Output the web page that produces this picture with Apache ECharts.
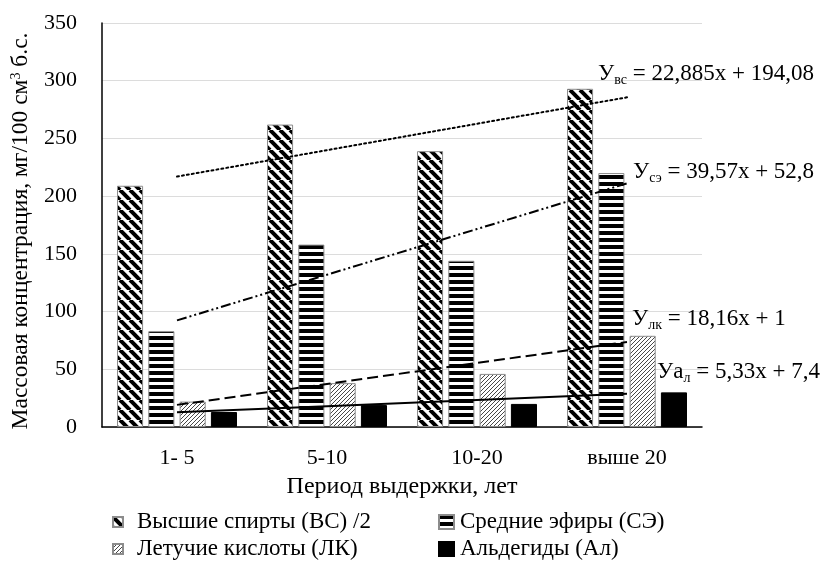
<!DOCTYPE html>
<html><head><meta charset="utf-8">
<script src="https://cdn.jsdelivr.net/npm/echarts@6/dist/echarts.min.js"></script>
<style>html,body{margin:0;padding:0;background:#fff}#c{width:822px;height:563px}</style>
</head><body><div id="c"></div>
<script>
const categories = ['1- 5', '5-10', '10-20', 'выше 20'];
const seriesNames = ['Высшие спирты (ВС) /2', 'Средние эфиры (СЭ)', 'Летучие кислоты (ЛК)', 'Альдегиды (Ал)'];
const valuesVS = [209, 262, 239, 293];
const valuesSE = [83, 158, 144, 220];
const valuesLK = [22, 38, 46, 79];
const valuesAL = [13, 19, 20, 30];
const trendSlope = [22.885, 39.57, 18.16, 5.33];
const trendIntercept = [194.08, 52.8, 1, 7.4];
const trendLabels = [
  '{m|У}{s|вс}{m| = 22,885x + 194,08}',
  '{m|У}{s|сэ}{m| = 39,57x + 52,8}',
  '{m|У}{s|лк}{m| = 18,16x + 1}',
  '{m|Уа}{s|л}{m| = 5,33x + 7,4}'
];
const yTicks = [0, 50, 100, 150, 200, 250, 300, 350];

const FONT = 'Liberation Serif';

function tile(w, h, draw) {
  const c = document.createElement('canvas');
  c.width = w; c.height = h;
  const g = c.getContext('2d');
  g.fillStyle = '#fff'; g.fillRect(0, 0, w, h);
  draw(g, w, h);
  return c;
}
const patVS = tile(10, 10, (g, s) => {
  g.strokeStyle = '#000'; g.lineWidth = 4;
  for (let k = -1; k <= 1; k++) { g.beginPath(); g.moveTo(k * s, 0); g.lineTo(k * s + s, s); g.stroke(); }
});
const patSE = tile(4, 7, (g, w) => { g.fillStyle = '#000'; g.fillRect(0, 0, w, 4); });
const patLK = tile(4, 4, (g, s) => {
  g.strokeStyle = '#333'; g.lineWidth = 0.9;
  for (let k = -1; k <= 1; k++) { g.beginPath(); g.moveTo(k * s, s); g.lineTo(k * s + s, 0); g.stroke(); }
});

const barValues = [valuesVS, valuesSE, valuesLK, valuesAL];
const fills = [
  { image: patVS, repeat: 'repeat' },
  { image: patSE, repeat: 'repeat' },
  { image: patLK, repeat: 'repeat' },
  '#000'
];
const borders = ['#8c8c8c', '#8c8c8c', '#8c8c8c', '#000'];
const dashes = [[2, 3], [10, 3, 2, 3, 2, 3], [11, 5], 'solid'];
const labelOffsets = [[-29, -23], [6, -11], [5, -23], [30, -22]];

const series = [];
barValues.forEach((vals, i) => {
  series.push({
    name: seriesNames[i], type: 'bar', data: vals,
    barGap: '20%', barCategoryGap: '20%',
    itemStyle: { color: fills[i], borderColor: borders[i], borderWidth: 1 },
    z: 2
  });
});
trendSlope.forEach((a, i) => {
  const b = trendIntercept[i];
  series.push({
    name: 'trend' + i, type: 'line', symbol: 'none', showSymbol: false,
    data: categories.map((_, k) => +(a * (k + 1) + b).toFixed(3)),
    lineStyle: { color: '#000', width: 2, type: dashes[i], cap: i === 0 ? 'round' : 'butt' },
    z: 5,
    endLabel: {
      show: true, formatter: trendLabels[i], offset: labelOffsets[i], distance: 0,
      rich: {
        m: { fontFamily: FONT, fontSize: 23, color: '#000', lineHeight: 26 },
        s: { fontFamily: FONT, fontSize: 14, color: '#000', lineHeight: 26, padding: [12, 0, 0, 0] }
      }
    }
  });
});

// legend: icons via ECharts legend, texts as real text elements
const legendPos = [
  { left: 112, cy: 521, w: 10, h: 10, tx: 137 },
  { left: 438, cy: 521, w: 15, h: 14, tx: 460 },
  { left: 112, cy: 548, w: 10, h: 10, tx: 137 },
  { left: 438, cy: 548, w: 15, h: 14, tx: 460 }
];
const legends = seriesNames.map((n, i) => ({
  data: [n], left: legendPos[i].left, top: legendPos[i].cy - legendPos[i].h / 2, padding: 0,
  itemWidth: legendPos[i].w, itemHeight: legendPos[i].h, icon: 'rect',
  formatter: () => '', textStyle: { fontSize: 1 }
}));
const legendTexts = seriesNames.map((n, i) => ({
  type: 'text', left: legendPos[i].tx, top: legendPos[i].cy - 11,
  style: { text: n, fontFamily: FONT, fontSize: 23, fill: '#000' }
}));

const chart = echarts.init(document.getElementById('c'), null, { renderer: 'canvas' });
chart.setOption({
  animation: false,
  backgroundColor: '#fff',
  textStyle: { fontFamily: FONT, color: '#000' },
  grid: { left: 102, right: 120, top: 23, bottom: 136, containLabel: false },
  legend: legends,
  graphic: legendTexts,
  xAxis: {
    type: 'category', data: categories,
    axisLine: { lineStyle: { color: '#000', width: 1.5 } },
    axisTick: { show: false },
    axisLabel: { fontFamily: FONT, fontSize: 22, color: '#000', margin: 20 },
    name: 'Период выдержки, лет', nameLocation: 'middle', nameGap: 48,
    nameTextStyle: { fontFamily: FONT, fontSize: 24, color: '#000' }
  },
  yAxis: {
    type: 'value', min: yTicks[0], max: yTicks[yTicks.length - 1], interval: 50,
    axisLine: { show: true, lineStyle: { color: '#000', width: 1.5 } },
    axisTick: { show: false },
    splitLine: { lineStyle: { color: '#dcdcdc', width: 1 } },
    axisLabel: { fontFamily: FONT, fontSize: 22, color: '#000', margin: 25 },
    name: 'Массовая концентрация, мг/100 см{sup|3} б.с.',
    nameLocation: 'middle', nameGap: 66, nameRotate: 90,
    nameTextStyle: {
      fontFamily: FONT, fontSize: 23.5, color: '#000', padding: [0, 12, 0, 0],
      rich: { sup: { fontFamily: FONT, fontSize: 14, color: '#000', padding: [0, 0, 10, 0] } }
    }
  },
  series: series
});
</script></body></html>
